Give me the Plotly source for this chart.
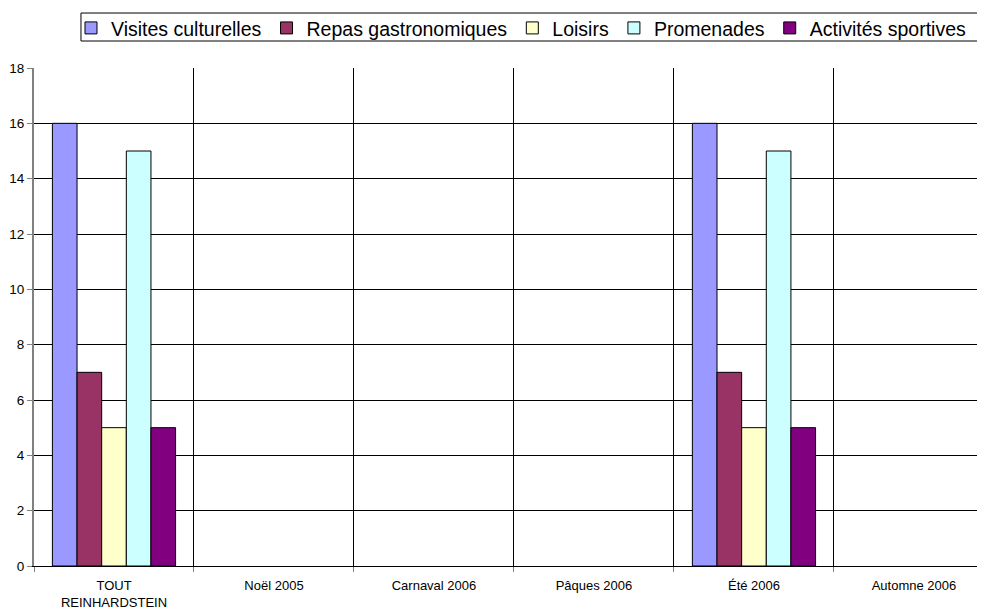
import plotly.graph_objects as go

categories = ["TOUT<br>REINHARDSTEIN", "Noël 2005", "Carnaval 2006", "Pâques 2006", "Été 2006", "Automne 2006"]
series_names = ["Visites culturelles", "Repas gastronomiques", "Loisirs", "Promenades", "Activités sportives"]
visites = [16, None, None, None, 16, None]
repas = [7, None, None, None, 7, None]
loisirs = [5, None, None, None, 5, None]
promenades = [15, None, None, None, 15, None]
sportives = [5, None, None, None, 5, None]
colors = ["#9999FF", "#993366", "#FFFFCC", "#CCFFFF", "#800080"]

fig = go.Figure()
for name, vals, col in zip(series_names, [visites, repas, loisirs, promenades, sportives], colors):
    fig.add_trace(go.Bar(x=categories, y=vals, name=name,
                         marker=dict(color=col, line=dict(color="black", width=1))))

# legend frame
fig.add_shape(type="rect", xref="paper", yref="paper",
              x0=0.0494, x1=0.9958, y0=1.0542, y1=1.1104,
              line=dict(color="black", width=1), fillcolor="rgba(0,0,0,0)")

fig.update_layout(
    width=977, height=602,
    margin=dict(l=26, r=0, t=60, b=44),
    paper_bgcolor="white", plot_bgcolor="white",
    font=dict(family="Liberation Sans, Arial", size=13, color="black"),
    barmode="group", bargap=0.23, bargroupgap=0,
    legend=dict(orientation="h", xref="paper", x=0.0389, xanchor="left",
                yref="paper", y=1.119, yanchor="top",
                borderwidth=0, bgcolor="rgba(0,0,0,0)", font=dict(size=19.5),
                itemwidth=30, tracegroupgap=0),
    xaxis=dict(type="category", range=[-0.5, 5.444], tickson="boundaries",
               showgrid=True, gridcolor="black", gridwidth=1,
               ticks="outside", ticklen=5, tickcolor="#808080",
               showline=True, linecolor="black", tickfont=dict(size=13),
               ticklabelstandoff=7, automargin=False),
    yaxis=dict(range=[0, 18], dtick=2, showgrid=True, gridcolor="black", gridwidth=1,
               ticks="outside", ticklen=5, tickcolor="#808080",
               showline=True, linecolor="#808080", linewidth=2,
               zeroline=False, tickfont=dict(size=13.5), automargin=False),
)
fig.write_html("out.html")
